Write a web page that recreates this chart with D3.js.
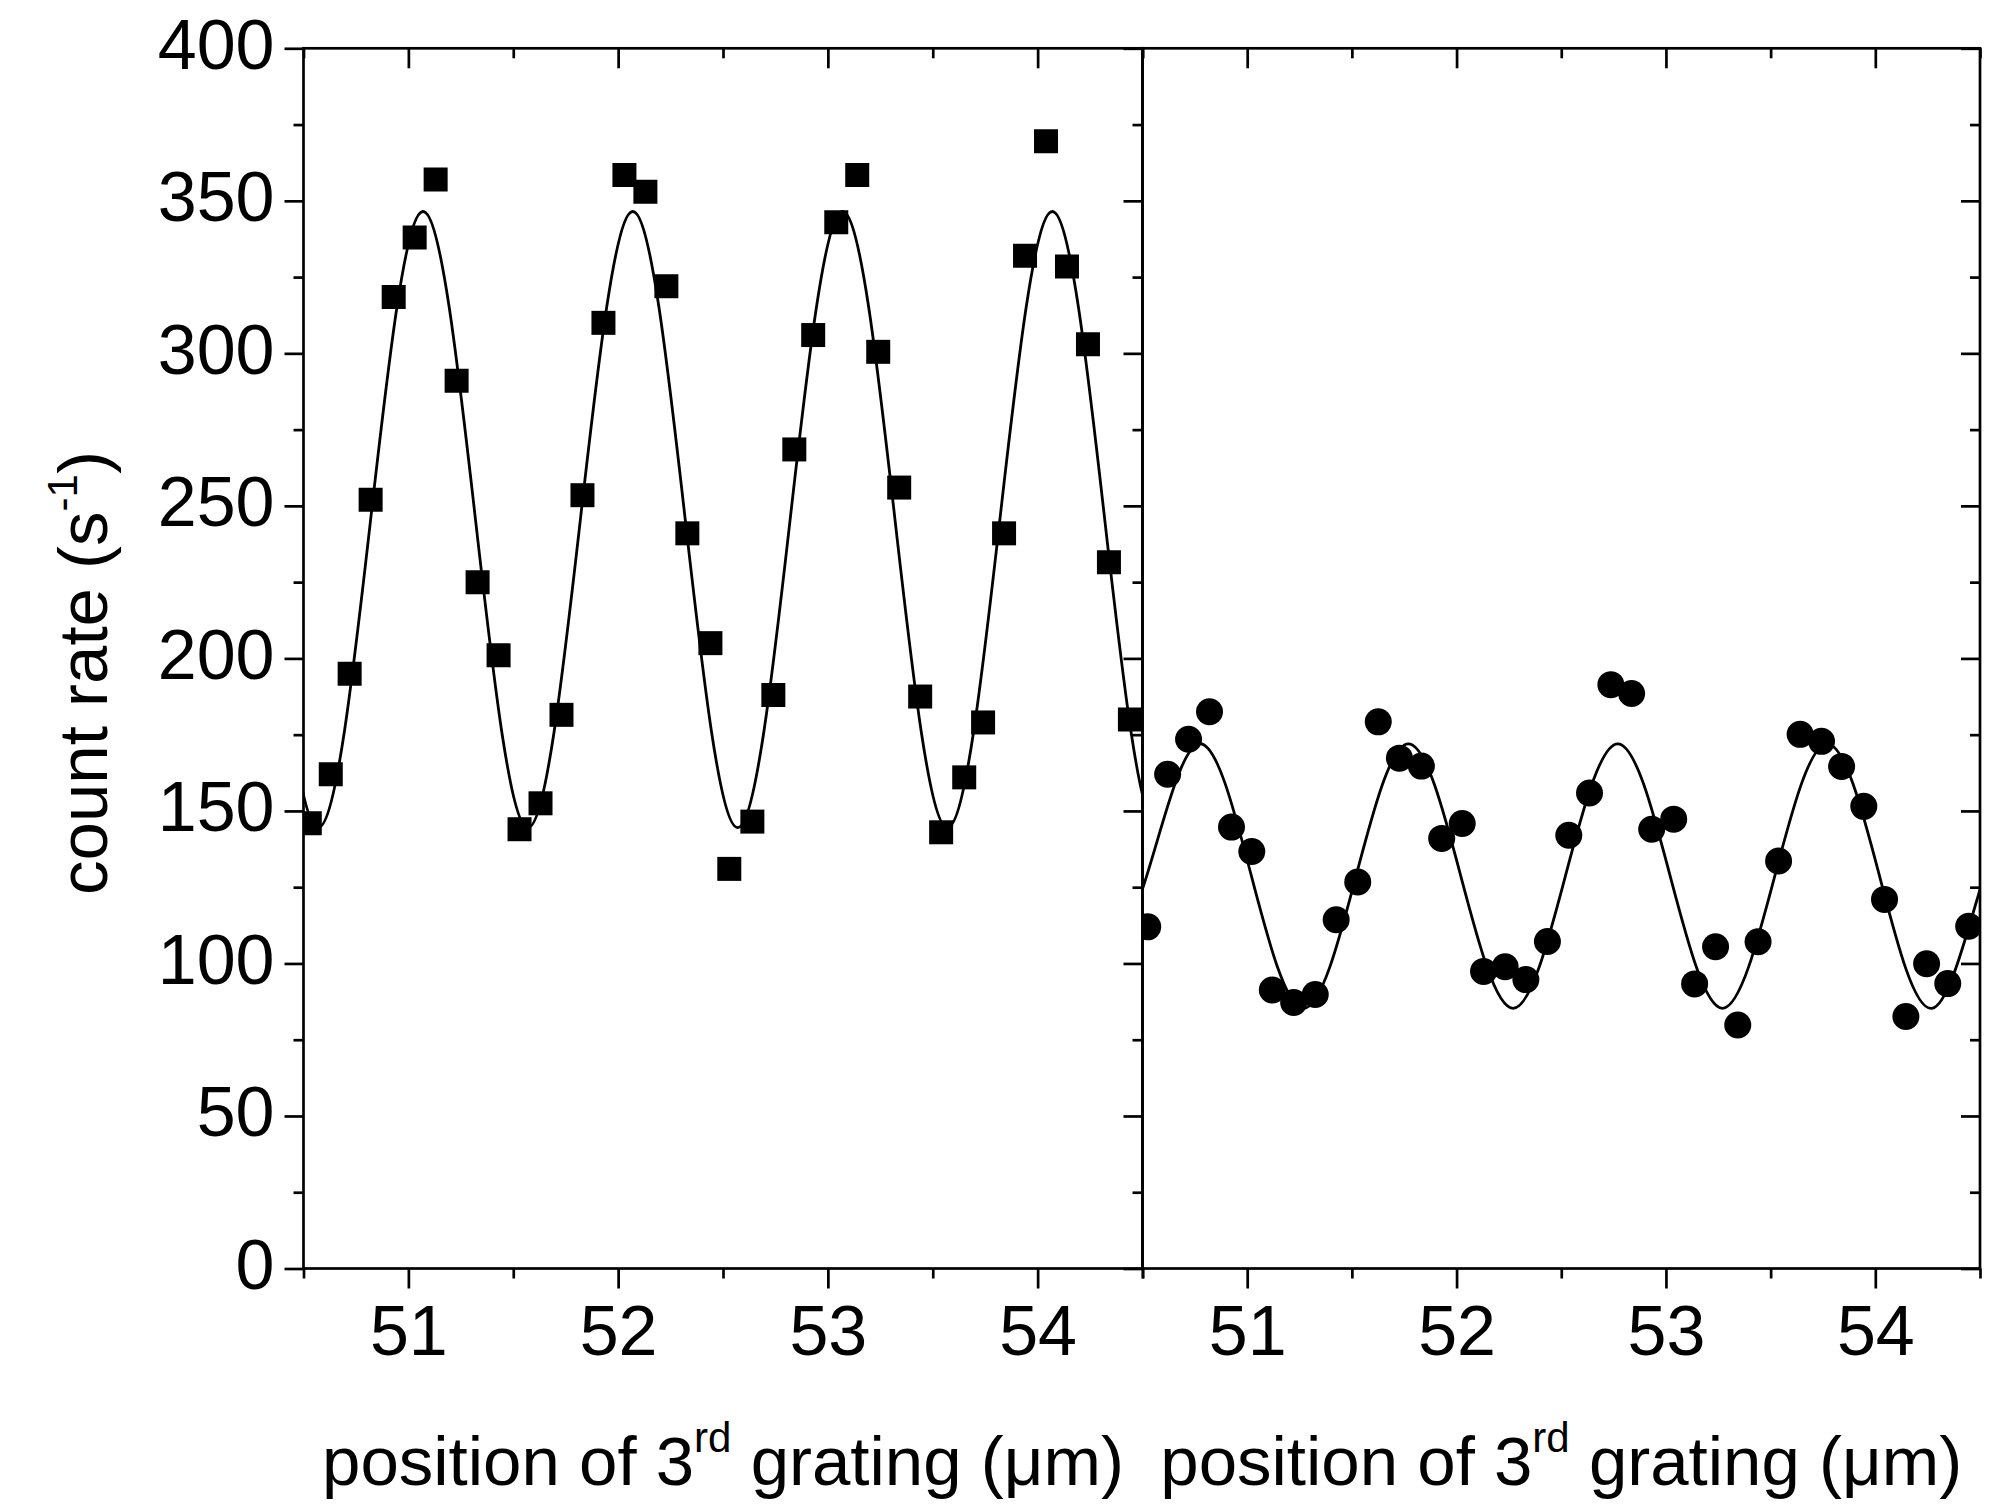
<!DOCTYPE html>
<html><head><meta charset="utf-8">
<script src="https://cdn.jsdelivr.net/npm/d3@7"></script>
<style>
body{margin:0;background:#fff}
svg{display:block}
text{font-family:"Liberation Sans",Arial,Helvetica,sans-serif;fill:#000}
</style>
</head><body>
<svg id="c" width="1997" height="1504"></svg>
<script>
// ---- data ----
const leftX = [50.53,50.63,50.72,50.82,50.93,51.03,51.13,51.23,51.33,51.43,51.53,51.63,51.73,51.83,51.93,52.03,52.13,52.23,52.33,52.44,52.53,52.64,52.74,52.84,52.93,53.04,53.14,53.24,53.34,53.44,53.54,53.65,53.74,53.84,53.94,54.04,54.14,54.24,54.34,54.44];
const leftY = [146,162,195,252,318.5,338,357,291,225,201,144,152.5,181.5,253.5,310,358.5,353,322,241,205,131,146.5,188,268.5,306,343,358.5,300.5,256,187.5,143,161,179,241,332,369.5,328.5,303,231.5,180];
const rightX = [50.525,50.62,50.72,50.82,50.925,51.022,51.12,51.222,51.325,51.425,51.528,51.626,51.727,51.832,51.929,52.027,52.129,52.232,52.331,52.434,52.536,52.635,52.737,52.836,52.932,53.037,53.137,53.237,53.343,53.44,53.538,53.641,53.743,53.839,53.945,54.044,54.146,54.245,54.346,54.446];
const rightY = [112,162,173.5,182.5,144.7,136.7,91.3,87.2,89.8,114.3,126.7,179.2,167.3,164.7,141,145.9,97.4,98.9,94.7,107.2,142,155.9,191.4,188.5,144,147.3,93.3,105.5,79.8,107.1,133.6,175.1,172.8,164.6,151.5,121,82.6,99.9,93.4,112.2];
// fit curves: knots read at peaks, troughs and mid-levels (clipped to the frame)
const leftFitX = [50.32,50.57,50.82,51.07,51.32,51.57,51.82,52.07,52.32,52.57,52.82,53.07,53.32,53.57,53.82,54.07,54.32,54.57,54.82];
const leftFitY = [245.5,144.5,245.5,346.5,245.5,144.5,245.5,346.5,245.5,144.5,245.5,346.5,245.5,144.5,245.5,346.5,245.5,144.5,245.5];
const rightFitX = [50.27,50.52,50.77,51.02,51.27,51.52,51.77,52.02,52.27,52.52,52.77,53.02,53.27,53.52,53.77,54.02,54.27,54.52,54.77];
const rightFitY = [85.3,128.7,172,128.7,85.3,128.7,172,128.7,85.3,128.7,172,128.7,85.3,128.7,172,128.7,85.3,128.7,172];
const xMajor = [51,52,53,54];
const xMinor = [50.5,51.5,52.5,53.5,54.5];
const yMajor = [0,50,100,150,200,250,300,350,400];
const yMinor = [25,75,125,175,225,275,325,375];
const xDomain = [50.5,54.5];
const yDomain = [0,400];

// ---- layout ----
const svg = d3.select("#c");
const yTop = 48.3, yBottom = 1268.5;
const panels = [
  {x0:303.5, x1:1142.5, xs:leftX, ys:leftY, fx:leftFitX, fy:leftFitY, marker:"square", labels:true},
  {x0:1142.5, x1:1980, xs:rightX, ys:rightY, fx:rightFitX, fy:rightFitY, marker:"circle", labels:false}
];
const y = d3.scaleLinear().domain(yDomain).range([yBottom, yTop]);
const SW = 2.7;
const FS = 70;

function style(g){
  g.select(".domain").remove();
  g.selectAll(".tick line").attr("stroke","#000").attr("stroke-width",SW);
}

panels.forEach((p,i)=>{
  const x = d3.scaleLinear().domain(xDomain).range([p.x0,p.x1]);
  const g = svg.append("g");
  const cid = "clip"+i;
  svg.append("clipPath").attr("id",cid).append("rect")
    .attr("x",p.x0).attr("y",yTop).attr("width",p.x1-p.x0).attr("height",yBottom-yTop);

  // bottom axis (outward)
  const gb = g.append("g").attr("transform",`translate(0,${yBottom})`)
    .call(d3.axisBottom(x).tickValues(xMajor).tickSize(20).tickFormat(d3.format("d")));
  style(gb);
  gb.attr("font-family",null).attr("font-size",null);
  gb.selectAll(".tick text").attr("y",86.5).attr("dy",0).style("font-size",FS+"px");
  const gbm = g.append("g").attr("transform",`translate(0,${yBottom})`)
    .call(d3.axisBottom(x).tickValues(xMinor).tickSize(10).tickFormat(""));
  style(gbm);
  // top axis (inward)
  const gt = g.append("g").attr("transform",`translate(0,${yTop})`)
    .call(d3.axisTop(x).tickValues(xMajor).tickSize(-20).tickFormat(""));
  style(gt);
  const gtm = g.append("g").attr("transform",`translate(0,${yTop})`)
    .call(d3.axisTop(x).tickValues(xMinor).tickSize(-10).tickFormat(""));
  style(gtm);
  // left axis (ticks pointing left)
  const gl = g.append("g").attr("transform",`translate(${p.x0},0)`)
    .call(d3.axisLeft(y).tickValues(yMajor).tickSize(19).tickFormat(p.labels?d3.format("d"):""));
  style(gl);
  gl.attr("font-family",null).attr("font-size",null);
  gl.selectAll(".tick text").attr("x",-29).attr("y",20).attr("dy",0).style("font-size",FS+"px");
  const glm = g.append("g").attr("transform",`translate(${p.x0},0)`)
    .call(d3.axisLeft(y).tickValues(yMinor).tickSize(10).tickFormat(""));
  style(glm);
  if(i===panels.length-1){
    const gr = g.append("g").attr("transform",`translate(${p.x1},0)`)
      .call(d3.axisRight(y).tickValues(yMajor).tickSize(-19).tickFormat(""));
    style(gr);
    const grm = g.append("g").attr("transform",`translate(${p.x1},0)`)
      .call(d3.axisRight(y).tickValues(yMinor).tickSize(-10).tickFormat(""));
    style(grm);
  }
  // frame
  g.append("rect").attr("x",p.x0).attr("y",yTop).attr("width",p.x1-p.x0).attr("height",yBottom-yTop)
    .attr("fill","none").attr("stroke","#000").attr("stroke-width",SW);

  // fit curve
  const pts = p.fx.map((v,k)=>[v,p.fy[k]]);
  g.append("path").attr("clip-path",`url(#${cid})`)
    .attr("d", d3.line().x(d=>x(d[0])).y(d=>y(d[1])).curve(d3.curveNatural)(pts))
    .attr("fill","none").attr("stroke","#000").attr("stroke-width",2.8);

  // markers
  const data = p.xs.map((v,k)=>[v,p.ys[k]]);
  const mg = g.append("g").attr("clip-path",`url(#${cid})`);
  if(p.marker==="square"){
    mg.selectAll("path").data(data).join("path")
      .attr("d", d3.symbol(d3.symbolSquare, 24*24)())
      .attr("transform", d=>`translate(${x(d[0])},${y(d[1])})`)
      .attr("fill","#000");
  } else {
    mg.selectAll("circle").data(data).join("circle")
      .attr("cx", d=>x(d[0])).attr("cy", d=>y(d[1])).attr("r",13.5)
      .attr("fill","#000");
  }

  // x axis title
  const t = svg.append("text").attr("x",(p.x0+p.x1)/2).attr("y",1485)
    .attr("text-anchor","middle").style("font-size","69px");
  t.append("tspan").text("position of 3");
  t.append("tspan").attr("dy",-33).style("font-size","42px").text("rd");
  t.append("tspan").attr("dy",33).text(" grating (\u03bcm)");
});

// y axis title
const yt = svg.append("text").attr("transform","translate(107,673) rotate(-90)")
  .attr("text-anchor","middle").style("font-size","69px");
yt.append("tspan").text("count rate (s");
yt.append("tspan").attr("dy",-30).style("font-size","42px").text("-1");
yt.append("tspan").attr("dy",30).text(")");
</script>
</body></html>
